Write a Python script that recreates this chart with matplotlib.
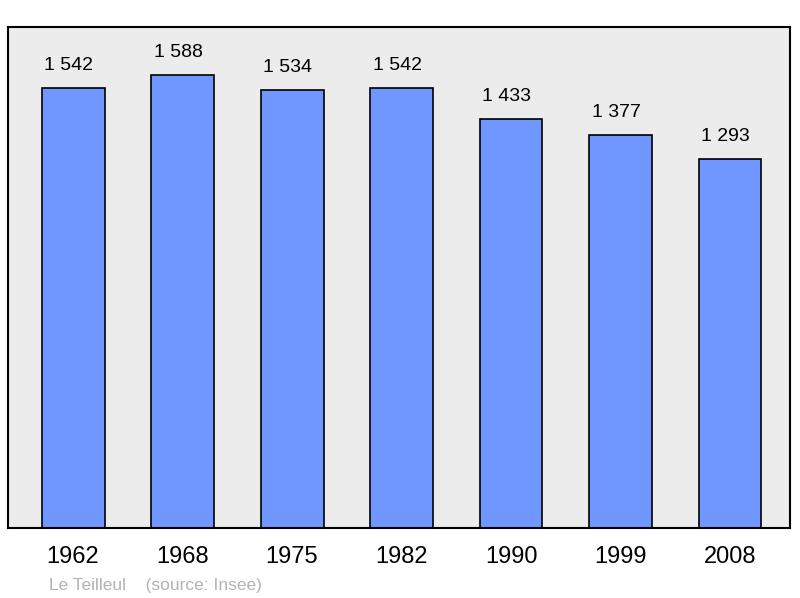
import matplotlib.pyplot as plt

plt.rcParams['font.family'] = ['Liberation Sans', 'DejaVu Sans']

# Population data
years = ['1962', '1968', '1975', '1982', '1990', '1999', '2008']
population = [1542, 1588, 1534, 1542, 1433, 1377, 1293]
source_text = 'Le Teilleul    (source: Insee)'

fig = plt.figure(figsize=(8, 5.98), dpi=100)
ax = fig.add_axes([0.01, 0.117, 0.9775, 0.838])
ax.set_facecolor('#ececec')

x = list(range(len(years)))
ax.bar(x, population, width=0.575, color='#7096ff', edgecolor='black', linewidth=1.2)

# Value labels above bars
for xi, v in zip(x, population):
    label = f'{v:,}'.replace(',', ' ')
    ax.annotate(label, (xi, v), xytext=(-3, 10), textcoords='offset points',
                ha='center', va='bottom', fontsize=14)

ax.set_xlim(-0.594, 6.548)
ax.set_ylim(0, 1755)
ax.set_xticks(x)
ax.set_xticklabels(years, fontsize=17)
ax.tick_params(axis='x', length=0, pad=13)
ax.set_yticks([])
for s in ax.spines.values():
    s.set_linewidth(1.5)

fig.text(49 / 800, 1 - 590 / 598, source_text, fontsize=12.5, color='#b3b3b3',
         ha='left', va='baseline')

plt.savefig('out.png', dpi=100)
